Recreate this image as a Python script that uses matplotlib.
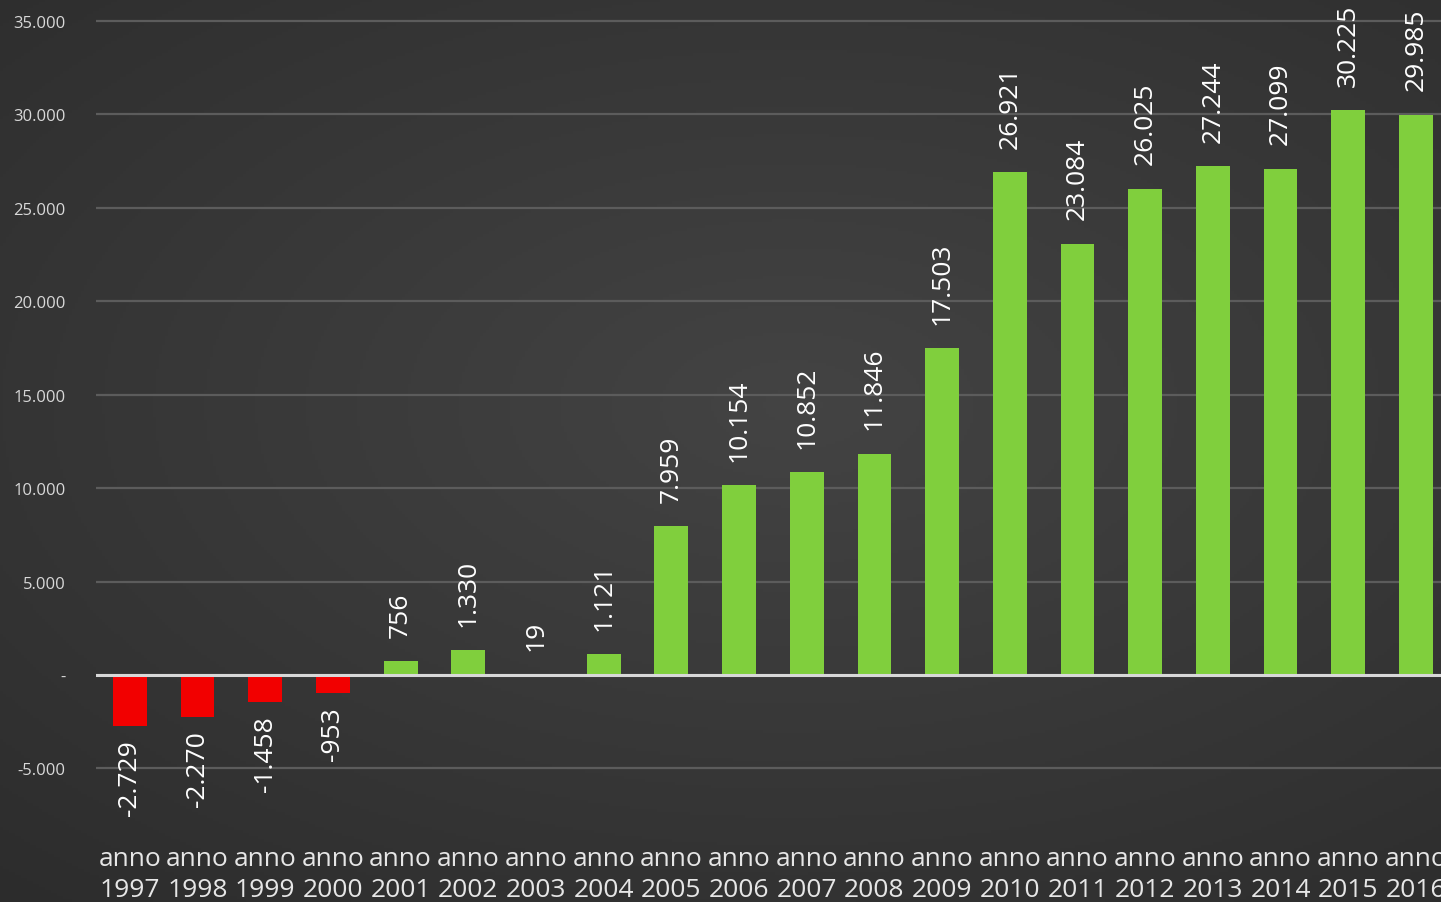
import numpy as np
import matplotlib
matplotlib.use("Agg")
import matplotlib.pyplot as plt
from matplotlib.ticker import FuncFormatter

# valori
anni = ["1997", "1998", "1999", "2000", "2001", "2002", "2003", "2004", "2005", "2006",
        "2007", "2008", "2009", "2010", "2011", "2012", "2013", "2014", "2015", "2016"]
valori = [-2729, -2270, -1458, -953, 756, 1330, 19, 1121, 7959, 10154,
          10852, 11846, 17503, 26921, 23084, 26025, 27244, 27099, 30225, 29985]
etichette = ["anno\n" + a for a in anni]
tick_y = [-5000, 0, 5000, 10000, 15000, 20000, 25000, 30000, 35000]

VERDE = "#80cf3d"
ROSSO = "#f20000"
W, H = 1441, 903

plt.rcParams["font.family"] = ["Open Sans", "DejaVu Sans"]


def formatta(v):
    if v == 0:
        return "-"
    return "{:,}".format(int(v)).replace(",", ".")


fig = plt.figure(figsize=(W / 100, H / 100), dpi=100)

# sfondo scuro con gradiente radiale
bg = fig.add_axes([0, 0, 1, 1])
yy, xx = np.mgrid[0:1:300j, 0:1:480j]
r = np.sqrt(((xx - 0.55) / 0.9) ** 2 + ((yy - 0.45) / 0.8) ** 2)
lum = 0.265 - 0.10 * np.clip(r, 0, 1)
img = np.dstack([lum, lum, lum])
bg.imshow(img, aspect="auto", extent=[0, 1, 0, 1], origin="upper")
bg.set_axis_off()

# assi principali
x0 = 96 / W
ax = fig.add_axes([x0, 1 - 835 / H, 1 - x0, 835 / H])
ax.patch.set_alpha(0)

x = np.arange(len(anni))
colori = [VERDE if v >= 0 else ROSSO for v in valori]
ax.bar(x, valori, width=0.5, color=colori, zorder=3)

ax.set_xlim(-0.5, 19.37)
ax.set_ylim(-8507, 36177)
ax.set_yticks(tick_y)
ax.yaxis.set_major_formatter(FuncFormatter(lambda v, p: formatta(v)))
ax.grid(axis="y", color="#5c5c5c", linewidth=1.6, zorder=1)
ax.axhline(0, color="#d8d8d8", linewidth=2.2, zorder=4)

for s in ax.spines.values():
    s.set_visible(False)
ax.tick_params(axis="y", length=0, pad=22, labelcolor="#d8d8d8", labelsize=12)
ax.tick_params(axis="x", length=0)
ax.set_xticks(x)
ax.set_xticklabels([])

# etichette degli anni sotto il grafico
for xi, lab in zip(x, etichette):
    ax.text(xi, -9150, lab, ha="center", va="top", fontsize=19, color="#e6e6e6",
            linespacing=1.32, clip_on=False)

# etichette dei valori, ruotate
for xi, v in zip(x, valori):
    if v >= 0:
        ax.text(xi, max(v, 0) + 1300, formatta(v), rotation=90, ha="center", va="bottom",
                fontsize=19, color="white", zorder=5)
    else:
        ax.text(xi, v - 700, formatta(v), rotation=90, ha="center", va="top",
                fontsize=19, color="white", zorder=5)

fig.savefig("out.png", dpi=100)
